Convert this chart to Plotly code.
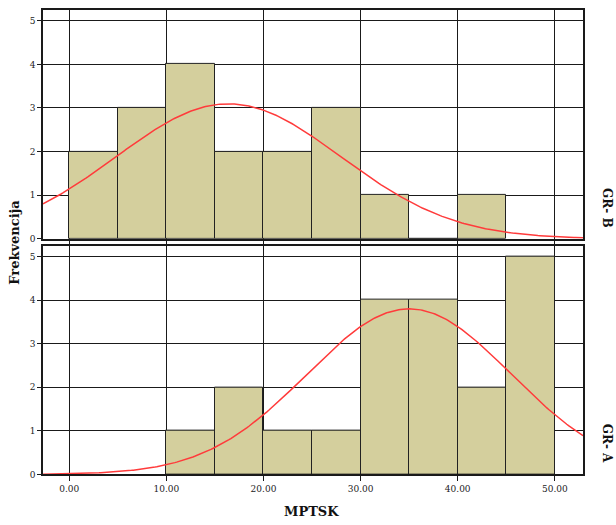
import numpy as np
import plotly.graph_objects as go

# ---- data ----
bin_width = 5
grb_bin_starts = [0, 5, 10, 15, 20, 25, 30, 35, 40]
grb_counts = [2, 3, 4, 2, 2, 3, 1, 0, 1]
gra_bin_starts = [10, 15, 20, 25, 30, 35, 40, 45]
gra_counts = [1, 2, 1, 1, 4, 4, 2, 5]
# fitted normal curve parameters
grb_mean, grb_sd = 16.4, 11.6
gra_mean, gra_sd = 35.0, 10.5
x_ticks = [0, 10, 20, 30, 40, 50]
x_tick_labels = ["0.00", "10.00", "20.00", "30.00", "40.00", "50.00"]
y_ticks = [0, 1, 2, 3, 4, 5]
panel_labels = ["GR- B", "GR- A"]

XR = [-2.7, 52.9]
YR = [0, 5.25]
bar_fill = "#d4cf9d"
line_col = "#1a1a1a"
font_fam = "DejaVu Serif, Liberation Serif, serif"

fig = go.Figure()

def add_panel(starts, counts, mean, sd, xa, ya):
    n = sum(counts)
    centers = [s + bin_width / 2 for s in starts]
    fig.add_trace(go.Bar(x=centers, y=counts, width=bin_width,
                         marker=dict(color=bar_fill, line=dict(color="#222", width=1)),
                         xaxis=xa, yaxis=ya, showlegend=False))
    xs = np.linspace(XR[0], XR[1], 300)
    ys = n * bin_width * np.exp(-0.5 * ((xs - mean) / sd) ** 2) / (sd * np.sqrt(2 * np.pi))
    fig.add_trace(go.Scatter(x=xs, y=ys, mode="lines",
                             line=dict(color="#ff3b3b", width=1.5),
                             xaxis=xa, yaxis=ya, showlegend=False))

add_panel(grb_bin_starts, grb_counts, grb_mean, grb_sd, "x", "y")
add_panel(gra_bin_starts, gra_counts, gra_mean, gra_sd, "x2", "y2")

H = 525.0
xdom = [43 / 616, 583 / 616]
common_x = dict(range=XR, tickvals=x_ticks, showgrid=True, gridcolor=line_col, gridwidth=1,
                showline=True, linecolor=line_col, linewidth=1.5, mirror=True, zeroline=False,
                ticks="outside", ticklen=5, tickcolor=line_col,
                tickfont=dict(family=font_fam, size=9, color="#222"))
common_y = dict(range=YR, tickvals=y_ticks, showgrid=True, gridcolor=line_col, gridwidth=1,
                showline=True, linecolor=line_col, linewidth=1.5, mirror=True, zeroline=False,
                ticks="outside", ticklen=4, tickcolor=line_col,
                tickfont=dict(family=font_fam, size=9, color="#222"))

fig.update_layout(
    width=616, height=525, autosize=False,
    margin=dict(l=0, r=0, t=0, b=0),
    paper_bgcolor="white", plot_bgcolor="white",
    bargap=0,
    xaxis=dict(domain=xdom, anchor="y", showticklabels=False, **common_x),
    yaxis=dict(domain=[1 - 241 / H, 1 - 10 / H], anchor="x", **common_y),
    xaxis2=dict(domain=xdom, anchor="y2", ticktext=x_tick_labels, **common_x),
    yaxis2=dict(domain=[1 - 479 / H, 1 - 248 / H], anchor="x2", **common_y),
    annotations=[
        dict(text="<b>Frekvencija</b>", x=15 / 616, y=1 - 245 / H, xref="paper", yref="paper",
             xanchor="center", yanchor="middle",
             textangle=-90, showarrow=False, font=dict(family=font_fam, size=13, color="#111")),
        dict(text="<b>MPTSK</b>", x=312 / 616, y=1 - 516 / H, xref="paper", yref="paper",
             xanchor="center", yanchor="middle",
             showarrow=False, font=dict(family=font_fam, size=13, color="#111")),
        dict(text="<b>" + panel_labels[0] + "</b>", x=607 / 616, y=1 - 210 / H, xref="paper", yref="paper",
             xanchor="center", yanchor="middle",
             textangle=90, showarrow=False, font=dict(family=font_fam, size=12, color="#111")),
        dict(text="<b>" + panel_labels[1] + "</b>", x=607 / 616, y=1 - 447 / H, xref="paper", yref="paper",
             xanchor="center", yanchor="middle",
             textangle=90, showarrow=False, font=dict(family=font_fam, size=12, color="#111")),
    ],
)
fig.layout.xaxis2.ticktext = x_tick_labels
fig.layout.xaxis2.tickvals = x_ticks

fig.write_html("out.html", config=dict(displayModeBar=False, responsive=False),
               post_script="document.body.style.margin='0';document.body.style.overflow='hidden';")
